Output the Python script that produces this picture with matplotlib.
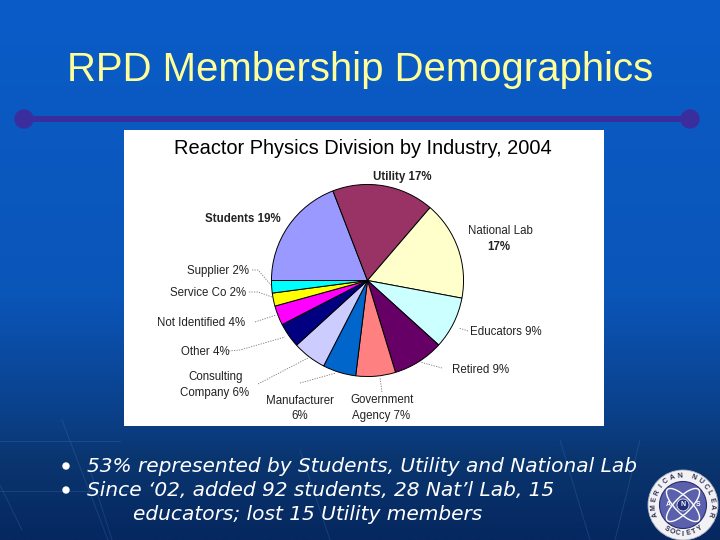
import numpy as np
import matplotlib
matplotlib.use('Agg')
import matplotlib.pyplot as plt
from matplotlib.colors import LinearSegmentedColormap
from matplotlib.patches import Circle, Ellipse, Rectangle

plt.rcParams['font.family'] = ['Liberation Sans', 'DejaVu Sans']

# pie data, clockwise from 9 o'clock, slice sizes
categories = ['Students', 'Utility', 'National Lab', 'Educators', 'Retired', 'Government Agency',
              'Manufacturer', 'Consulting Company', 'Other', 'Not Identified', 'Service Co', 'Supplier']
shares = [19.2, 17.2, 16.7, 8.8, 8.6, 6.7, 5.6, 5.7, 4.2, 3.3, 2.2, 2.1]
slice_colors = ['#9999FF', '#993366', '#FFFFCC', '#CCFFFF', '#660066', '#FF8080',
                '#0066CC', '#CCCCFF', '#000080', '#FF00FF', '#FFFF00', '#00FFFF']

title = 'RPD Membership Demographics'
chart_title = 'Reactor Physics Division by Industry, 2004'
bullets = ['53% represented by Students, Utility and National Lab',
           'Since \u201802, added 92 students, 28 Nat\u2019l Lab, 15']
bullet_tail = 'educators; lost 15 Utility members'

# label placement in slide pixels: text, x, y, ha, bold
labels = [
    ('Students 19%', 243, 219, 'center', True),
    ('Utility 17%', 402, 177, 'center', True),
    ('National Lab', 500, 231, 'center', False),
    ('17%', 499, 247, 'center', True),
    ('Educators 9%', 470, 332, 'left', False),
    ('Retired 9%', 452, 370, 'left', False),
    ('Government', 382, 400, 'center', False),
    ('Agency 7%', 381, 416, 'center', False),
    ('Manufacturer', 300, 401, 'center', False),
    ('6%', 300, 416, 'center', False),
    ('Consulting', 216, 377, 'center', False),
    ('Company 6%', 215, 393, 'center', False),
    ('Other 4%', 205, 352, 'center', False),
    ('Not Identified 4%', 201, 323, 'center', False),
    ('Service Co 2%', 208, 293, 'center', False),
    ('Supplier 2%', 218, 271, 'center', False),
]
# leader lines in slide pixels
leaders = [
    ((252, 270), (258, 270), (271, 285)),
    ((249, 292), (258, 292), (272, 297)),
    ((255, 322), (276, 315)),
    ((229, 351), (240, 350), (285, 337)),
    ((258, 384), (308, 358)),
    ((300, 383), (336, 373)),
    ((382, 392), (380, 378)),
    ((442, 368), (420, 362)),
    ((468, 331), (459, 328)),
]
# faint streaks in the slide background
streaks = [((62, 420), (108, 540)), ((90, 470), (112, 540)), ((0, 491), (140, 491)),
           ((0, 441), (120, 441)), ((0, 485), (22, 530)), ((300, 450), (330, 540)),
           ((560, 440), (590, 540)), ((640, 440), (615, 540))]

W, H = 720, 540
fig = plt.figure(figsize=(W / 100, H / 100), dpi=100)

# slide background, page pixels
bg = fig.add_axes([0, 0, 1, 1])
bg.set_xlim(0, W)
bg.set_ylim(H, 0)
bg.axis('off')
cmap = LinearSegmentedColormap.from_list(
    'slide', [(0, '#0B5CC8'), (0.55, '#0A55B8'), (0.78, '#0B3F86'), (0.85, '#0A3670'), (1, '#06275F')])
bg.imshow(np.linspace(0, 1, 256)[:, None], cmap=cmap, extent=(0, W, H, 0), aspect='auto', zorder=0)
for a, b in streaks:
    bg.plot([a[0], b[0]], [a[1], b[1]], color='#4A80C8', lw=0.7, alpha=0.25, zorder=0.5)

bg.text(360, 70, title, color='#FFFF99', fontsize=28.9, ha='center', va='center')

# divider
bg.plot([24, 690], [119, 119], color='#3A2E9E', lw=4.3, solid_capstyle='butt', zorder=1)
bg.add_patch(Circle((24, 119), 9, color='#3A2E9E', zorder=1))
bg.add_patch(Circle((690, 119), 9, color='#3A2E9E', zorder=1))

# chart panel
bg.add_patch(Rectangle((124, 130), 480, 296, facecolor='white', edgecolor='none', zorder=1))
bg.text(363, 149, chart_title, color='black', fontsize=14.4, ha='center', va='center', zorder=3)

for text, x, y, ha, bold in labels:
    bg.text(x, y, text, fontsize=8.3, ha=ha, va='center', color='#222222',
            fontweight='bold' if bold else 'normal', zorder=3)
for pts in leaders:
    xs, ys = zip(*pts)
    bg.plot(xs, ys, color='#777777', lw=0.6, ls=(0, (1.5, 1.5)), zorder=2)

# pie, placed by centre and radius in pixels
cx, cy, r = 367.5, 280.5, 97
pie_ax = fig.add_axes([(cx - r) / W, 1 - (cy + r) / H, 2 * r / W, 2 * r / H])
pie_ax.pie(shares, colors=slice_colors, startangle=180, counterclock=False, radius=1,
           wedgeprops={'edgecolor': 'black', 'linewidth': 0.7})
pie_ax.set_xlim(-1.01, 1.01)
pie_ax.set_ylim(-1.01, 1.01)

# bullets
body = dict(color='white', fontsize=14.5, style='italic', family=['DejaVu Sans'], va='center', zorder=3)
for line, y in zip(bullets, [467, 491]):
    bg.add_patch(Circle((66, y - 1), 3, color='white', zorder=3))
    bg.text(87, y, line, **body)
bg.text(133, 515, bullet_tail, **body)

# society seal
sx, sy = 683, 505
bg.add_patch(Circle((sx, sy), 35, facecolor='#F2F2F4', edgecolor='#B0B4C8', lw=0.6, zorder=2))
bg.add_patch(Circle((sx, sy), 23.5, facecolor='#5A60AC', edgecolor='#2A2E70', lw=0.8, zorder=3))
for ang in (45, 135):
    bg.add_patch(Ellipse((sx, sy), 44, 16, angle=ang, fill=False, edgecolor='white', lw=1, zorder=4))
bg.add_patch(Circle((sx, sy), 6, facecolor='#23307A', edgecolor='white', lw=0.5, zorder=4))
for ch, dx in (('A', -15), ('N', 0), ('S', 15)):
    bg.text(sx + dx, sy, ch, color='white', fontsize=5, fontweight='bold', ha='center', va='center', zorder=5)


def ring_text(text, start, end, upright_top=True):
    # one rotated letter per step along the seal ring, angles in degrees clockwise from north
    for ch, a in zip(text, np.linspace(start, end, len(text))):
        t = np.radians(a)
        x = sx + 29 * np.sin(t)
        y = sy - 29 * np.cos(t)
        rot = -a if upright_top else 180 - a
        bg.text(x, y, ch, color='#2A2A50', fontsize=5, fontweight='bold', rotation=rot,
                rotation_mode='anchor', ha='center', va='center', zorder=5)


ring_text('AMERICAN NUCLEAR', -108, 108)
ring_text('SOCIETY', 215, 145, upright_top=False)

fig.savefig('out.png', dpi=100)
